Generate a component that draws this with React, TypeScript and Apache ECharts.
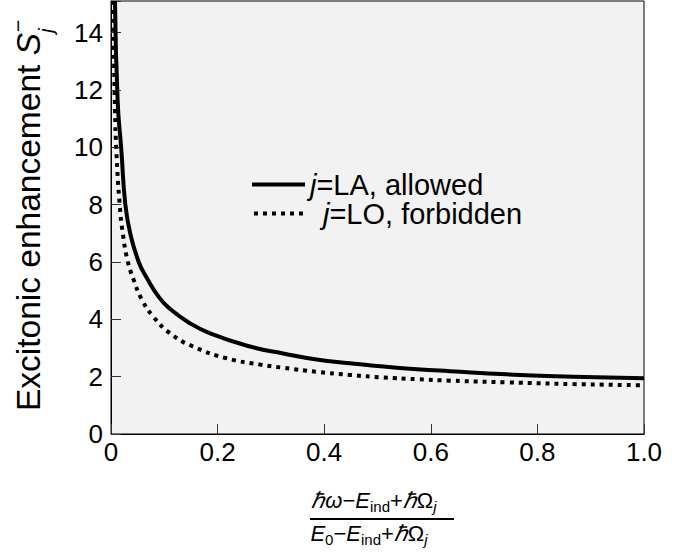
import React, { useEffect, useRef } from "react";
import * as echarts from "echarts";

const xTicks = [0, 0.2, 0.4, 0.6, 0.8, 1.0];
const yTicks = [0, 2, 4, 6, 8, 10, 12, 14];

const seriesNames = ["LA", "LO"];
const legendLabels = ["=LA, allowed", "=LO, forbidden"];

const laX = [0.0075, 0.0125, 0.0194, 0.0269, 0.036, 0.052, 0.067, 0.092, 0.113, 0.145, 0.186, 0.261, 0.323, 0.386, 0.448, 0.511, 0.574, 0.636, 0.742, 0.867, 1.0];
const laY = [15.1, 11.6, 9.9, 8.0, 7.0, 6.0, 5.45, 4.72, 4.33, 3.9, 3.51, 3.05, 2.81, 2.6, 2.47, 2.35, 2.26, 2.19, 2.08, 2.0, 1.94];

const loX = [0.004, 0.0075, 0.01, 0.0165, 0.0225, 0.031, 0.042, 0.0576, 0.079, 0.111, 0.154, 0.217, 0.28, 0.323, 0.386, 0.448, 0.511, 0.574, 0.636, 0.742, 0.867, 1.0];
const loY = [15.1, 11.3, 9.9, 7.95, 6.95, 6.05, 5.4, 4.7, 4.1, 3.51, 3.05, 2.64, 2.42, 2.31, 2.17, 2.06, 1.97, 1.91, 1.86, 1.8, 1.74, 1.7];

const FONT = "'Liberation Sans', Arial, Helvetica, sans-serif";

const SOLID_ICON = "path://M0,0H53V4H0Z";
const DOTTED_ICON =
  "path://M0,0h4v4h-4zM9,0h4v4h-4zM18,0h4v4h-4zM27,0h4v4h-4zM36,0h4v4h-4zM45,0h4v4h-4z";

function pairs(xs: number[], ys: number[]) {
  return xs.map((x, i) => [x, ys[i]]);
}

export default function App() {
  const ref = useRef<HTMLDivElement>(null);
  useEffect(() => {
    if (!ref.current) return;
    const chart = echarts.init(ref.current, null, { renderer: "svg" });
    const mainRich = {
      n: { fontSize: 22, fontFamily: FONT, color: "#000", lineHeight: 28, verticalAlign: "middle" },
      i: { fontSize: 22, fontFamily: FONT, fontStyle: "italic", color: "#000", lineHeight: 28, verticalAlign: "middle" },
      s: { fontSize: 15, fontFamily: FONT, color: "#000", lineHeight: 14, verticalAlign: "bottom" },
      si: { fontSize: 15, fontFamily: FONT, fontStyle: "italic", color: "#000", lineHeight: 14, verticalAlign: "bottom" },
    };
    const option: any = {
      animation: false,
      backgroundColor: "#fff",
      grid: {
        left: 111,
        right: 49,
        top: 1,
        bottom: 119,
        show: true,
        backgroundColor: "#f2f2f2",
        borderColor: "#000",
        borderWidth: 1,
      },
      xAxis: {
        type: "value",
        min: xTicks[0],
        max: xTicks[xTicks.length - 1],
        interval: 0.2,
        axisLine: { show: true, lineStyle: { color: "#000", width: 1 } },
        axisTick: { show: true, inside: true, length: 10, lineStyle: { color: "#333" } },
        splitLine: { show: false },
        axisLabel: {
          fontSize: 26,
          fontFamily: FONT,
          color: "#000",
          margin: 5,
          formatter: (v: number) => (v === 0 ? "0" : v.toFixed(1)),
        },
      },
      yAxis: {
        type: "value",
        min: 0,
        max: 15.1,
        interval: 2,
        axisLine: { show: true, lineStyle: { color: "#000", width: 1 } },
        axisTick: { show: true, inside: true, length: 10, lineStyle: { color: "#333" } },
        splitLine: { show: false },
        axisLabel: {
          fontSize: 26,
          fontFamily: FONT,
          color: "#000",
          margin: 8,
          formatter: (v: number) => (yTicks.indexOf(v) >= 0 ? String(v) : ""),
        },
      },
      legend: {
        orient: "vertical",
        left: 247,
        top: 165,
        itemWidth: 53,
        itemHeight: 4,
        itemGap: 0,
        data: [
          { name: seriesNames[0], icon: SOLID_ICON },
          { name: seriesNames[1], icon: DOTTED_ICON },
        ],
        itemStyle: { color: "#000", borderWidth: 0 },
        lineStyle: { width: 0, opacity: 0 },
        formatter: (name: string) => {
          const idx = seriesNames.indexOf(name);
          return idx === 0 ? "{j|j}{t|" + legendLabels[0] + "}" : "{j2|j}{t|" + legendLabels[1] + "}";
        },
        textStyle: {
          fontSize: 29,
          fontFamily: FONT,
          color: "#000",
          lineHeight: 28,
          rich: {
            j: { fontSize: 29, fontFamily: FONT, fontStyle: "italic", color: "#000", lineHeight: 28 },
            j2: { fontSize: 29, fontFamily: FONT, fontStyle: "italic", color: "#000", lineHeight: 28, padding: [0, 0, 0, 13] },
            t: { fontSize: 29, fontFamily: FONT, color: "#000", lineHeight: 28 },
          },
        },
      },
      series: [
        {
          name: seriesNames[0],
          type: "line",
          data: pairs(laX, laY),
          showSymbol: false,
          symbol: "none",
          smooth: 0.5,
          clip: true,
          lineStyle: { color: "#000", width: 4 },
          itemStyle: { color: "#000" },
        },
        {
          name: seriesNames[1],
          type: "line",
          data: pairs(loX, loY),
          showSymbol: false,
          symbol: "none",
          smooth: 0.5,
          clip: true,
          lineStyle: { color: "#000", width: 4, type: [4, 5], cap: "butt" },
          itemStyle: { color: "#000" },
        },
      ],
      graphic: [
        {
          type: "group",
          x: 28,
          y: 33,
          rotation: Math.PI / 2,
          children: [
            {
              type: "text",
              x: 0,
              y: 0,
              style: {
                text: "{a|Excitonic enhancement }{s|S}",
                align: "right",
                verticalAlign: "middle",
                rich: {
                  a: { fontSize: 33.5, fontFamily: FONT, fill: "#000", color: "#000" },
                  s: { fontSize: 33.5, fontFamily: FONT, fontStyle: "italic", fill: "#000", color: "#000" },
                },
              },
            },
            {
              type: "text",
              x: 0,
              y: 17,
              style: { text: "j", fontSize: 21, fontFamily: FONT, fontStyle: "italic", fill: "#000", align: "left", verticalAlign: "middle" },
            },
            {
              type: "text",
              x: 1,
              y: -11,
              style: { text: "−", fontSize: 21, fontFamily: FONT, fill: "#000", align: "left", verticalAlign: "middle" },
            },
          ],
        },
        {
          type: "text",
          x: 374,
          y: 500,
          style: {
            text: "{i|ℏω}{n|−}{i|E}{s|ind}{n|+}{i|ℏ}{n|Ω}{si|j}",
            align: "center",
            verticalAlign: "middle",
            rich: mainRich,
          },
        },
        {
          type: "line",
          shape: { x1: 310, y1: 519, x2: 454, y2: 519 },
          style: { stroke: "#000", lineWidth: 2 },
        },
        {
          type: "text",
          x: 369,
          y: 533,
          style: {
            text: "{i|E}{s|0}{n|−}{i|E}{s|ind}{n|+}{i|ℏ}{n|Ω}{si|j}",
            align: "center",
            verticalAlign: "middle",
            rich: mainRich,
          },
        },
      ],
    };
    chart.setOption(option);
    return () => chart.dispose();
  }, []);
  return (
    <div
      ref={ref}
      style={{ position: "fixed", left: 0, top: 0, width: 693, height: 553, background: "#fff" }}
    />
  );
}
